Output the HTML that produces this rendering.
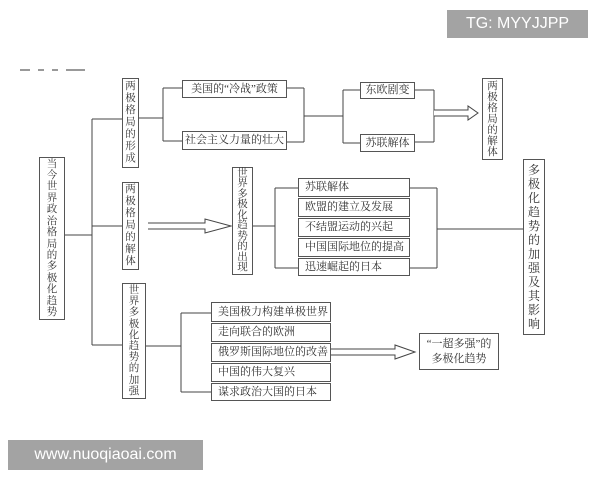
<!DOCTYPE html>
<html><head><meta charset="utf-8"><style>
body{margin:0;background:#fff;}
#c{position:relative;width:600px;height:480px;overflow:hidden;background:#fff;font-family:"Liberation Serif","Noto Serif CJK SC",serif;color:#333;}
.b{position:absolute;border:1px solid #555;box-sizing:border-box;background:#fff;display:flex;align-items:center;justify-content:center;font-size:11px;line-height:1;}
.v{text-align:center;font-size:10.5px;}
.h{justify-content:flex-start;padding-left:6px;white-space:nowrap;}
svg{position:absolute;left:0;top:0;}
.wm{position:absolute;background:#a3a3a3;color:#fff;font-family:"Liberation Sans",sans-serif;display:flex;align-items:center;justify-content:center;}
</style></head><body><div id="c">
<svg width="600" height="480" stroke="#444" stroke-width="1" fill="none">
<path d="M65 235H92M92 119V345M92 119H122M92 226H122M92 345H122"/>
<path d="M139 118H163M163 88V141M163 88H182M163 141H182"/>
<path d="M287 88H304M304 88V142M287 142H304M304 116H343M343 90V143M343 90H360M343 143H360"/>
<path d="M415 90H434M415 142H434M434 90V142"/>
<path d="M434 110H468V106L478 113L468 120V116H434" fill="#fff"/>
<path d="M148 223H205V219L231 226L205 233V229H148" fill="#fff"/>
<path d="M253 226H275M275 188V268M275 188H298M275 268H298"/>
<path d="M410 188H437M410 268H437M437 188V268M437 229H523"/>
<path d="M146 346H181M181 313V392M181 313H211M181 392H211"/>
<path d="M331 349H395V345L415 352L395 359V355H331" fill="#fff"/>
<path d="M20 70H30M38 70H44M52 70H58M66 70H85" stroke="#999" stroke-width="2"/>
</svg>
<div class="b v" style="left:39px;top:157px;width:26px;height:163px;line-height:11.4px">当<br>今<br>世<br>界<br>政<br>治<br>格<br>局<br>的<br>多<br>极<br>化<br>趋<br>势</div>
<div class="b v" style="left:122px;top:78px;width:17px;height:90px;line-height:12px">两<br>极<br>格<br>局<br>的<br>形<br>成</div>
<div class="b v" style="left:122px;top:182px;width:17px;height:88px;line-height:12px">两<br>极<br>格<br>局<br>的<br>解<br>体</div>
<div class="b v" style="left:122px;top:283px;width:24px;height:116px;line-height:11.2px">世<br>界<br>多<br>极<br>化<br>趋<br>势<br>的<br>加<br>强</div>
<div class="b" style="left:182px;top:80px;width:105px;height:18px">美国的“冷战”政策</div>
<div class="b" style="left:182px;top:131px;width:105px;height:19px">社会主义力量的壮大</div>
<div class="b" style="left:360px;top:82px;width:55px;height:17px">东欧剧变</div>
<div class="b" style="left:360px;top:134px;width:55px;height:18px">苏联解体</div>
<div class="b v" style="left:482px;top:78px;width:21px;height:82px;line-height:11px">两<br>极<br>格<br>局<br>的<br>解<br>体</div>
<div class="b v" style="left:232px;top:167px;width:21px;height:108px;line-height:10.5px">世<br>界<br>多<br>极<br>化<br>趋<br>势<br>的<br>出<br>现</div>
<div class="b h" style="left:298px;top:178px;width:112px;height:19px">苏联解体</div>
<div class="b h" style="left:298px;top:198px;width:112px;height:19px">欧盟的建立及发展</div>
<div class="b h" style="left:298px;top:218px;width:112px;height:19px">不结盟运动的兴起</div>
<div class="b h" style="left:298px;top:238px;width:112px;height:19px">中国国际地位的提高</div>
<div class="b h" style="left:298px;top:258px;width:112px;height:18px">迅速崛起的日本</div>
<div class="b v" style="left:523px;top:159px;width:22px;height:176px;line-height:14px;font-size:12px">多<br>极<br>化<br>趋<br>势<br>的<br>加<br>强<br>及<br>其<br>影<br>响</div>
<div class="b h" style="left:211px;top:302px;width:120px;height:20px">美国极力构建单极世界</div>
<div class="b h" style="left:211px;top:323px;width:120px;height:19px">走向联合的欧洲</div>
<div class="b h" style="left:211px;top:343px;width:120px;height:19px">俄罗斯国际地位的改善</div>
<div class="b h" style="left:211px;top:363px;width:120px;height:19px">中国的伟大复兴</div>
<div class="b h" style="left:211px;top:383px;width:120px;height:18px">谋求政治大国的日本</div>
<div class="b" style="left:419px;top:333px;width:80px;height:37px;line-height:15px;text-align:center">“一超多强”的<br>多极化趋势</div>
<div class="wm" style="left:447px;top:10px;width:141px;height:28px;font-size:16px">TG: MYYJJPP</div>
<div class="wm" style="left:8px;top:440px;width:195px;height:30px;font-size:16px">www.nuoqiaoai.com</div>
</div></body></html>
